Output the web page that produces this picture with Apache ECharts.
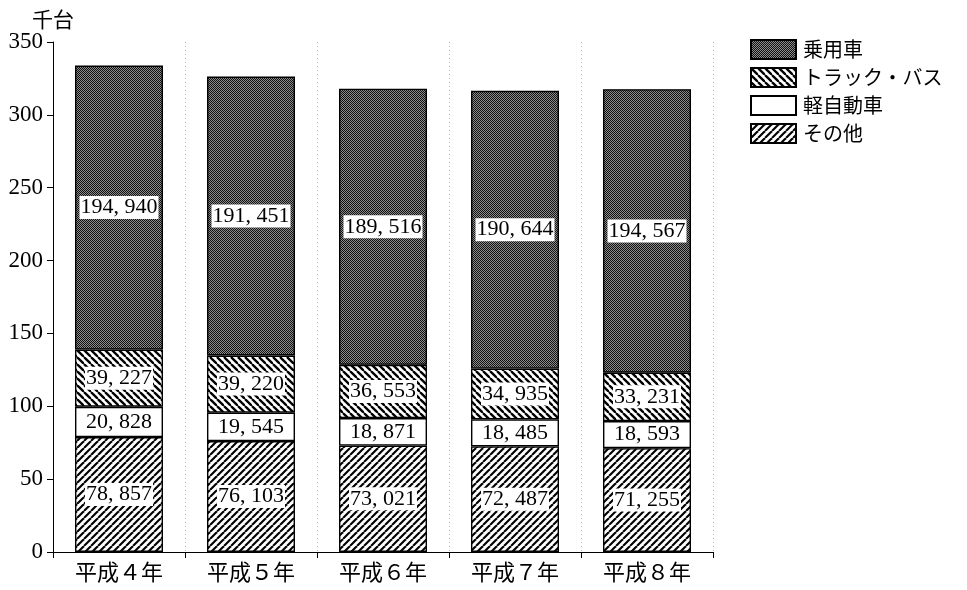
<!DOCTYPE html>
<html><head><meta charset="utf-8">
<script src="https://cdn.jsdelivr.net/npm/echarts@6/dist/echarts.min.js"></script>
<style>html,body{margin:0;padding:0;background:#fff}#c{width:967px;height:590px}</style>
</head><body><div id="c"></div>
<script>
const categories = ['平成４年','平成５年','平成６年','平成７年','平成８年'];
const sonota = [78857, 76103, 73021, 72487, 71255];
const kei = [20828, 19545, 18871, 18485, 18593];
const truckBus = [39227, 39220, 36553, 34935, 33231];
const jouyou = [194940, 191451, 189516, 190644, 194567];
const yTicks = [0, 50, 100, 150, 200, 250, 300, 350];

function mkCanvas(w, h, draw) {
  const c = document.createElement('canvas');
  c.width = w; c.height = h;
  const ctx = c.getContext('2d');
  ctx.fillStyle = '#fff'; ctx.fillRect(0, 0, w, h);
  draw(ctx);
  return c;
}
const slashPat = mkCanvas(7, 7, ctx => {
  ctx.strokeStyle = '#000'; ctx.lineWidth = 2.1;
  for (let k = -7; k <= 14; k += 7) { ctx.beginPath(); ctx.moveTo(k, 7); ctx.lineTo(k + 7, 0); ctx.stroke(); }
});
const backPat = mkCanvas(7, 7, ctx => {
  ctx.strokeStyle = '#000'; ctx.lineWidth = 2.3;
  for (let k = -7; k <= 14; k += 7) { ctx.beginPath(); ctx.moveTo(k, 0); ctx.lineTo(k + 7, 7); ctx.stroke(); }
});
const dotPat = mkCanvas(2, 2, ctx => {
  ctx.fillStyle = '#111'; ctx.fillRect(0, 0, 1, 1); ctx.fillRect(1, 1, 1, 1);
  ctx.fillStyle = '#8c8c8c'; ctx.fillRect(1, 0, 1, 1); ctx.fillRect(0, 1, 1, 1);
});

const fmt = v => String(v).replace(/\B(?=(\d{3})+(?!\d))/g, ', ');
const labelStyle = {
  show: true, position: 'inside', color: '#000',
  fontFamily: 'Liberation Serif', fontSize: 22,
  backgroundColor: '#fff', padding: [1, 1, 0, 1],
  formatter: p => fmt(p.value)
};
function ser(name, data, color) {
  return {
    name, type: 'bar', stack: 'a', data, barWidth: 88,
    itemStyle: { color, borderColor: '#000', borderWidth: 1.4 },
    label: labelStyle
  };
}

const chart = echarts.init(document.getElementById('c'));
chart.setOption({
  animation: false,
  grid: { left: 53, right: 254, top: 42, bottom: 38 },
  legend: {
    orient: 'vertical', left: 745, top: 34, icon: 'rect',
    itemWidth: 45, itemHeight: 19, itemGap: 7,
    textStyle: { fontFamily: 'Noto Sans CJK JP', fontSize: 20, color: '#000', padding: [0, 0, 0, 2] },
    data: ['乗用車', 'トラック・バス', '軽自動車', 'その他']
  },
  xAxis: {
    type: 'category', data: categories,
    axisLine: { lineStyle: { color: '#000', width: 1 } },
    axisTick: { show: true, length: 6, lineStyle: { color: '#000' } },
    axisLabel: { fontFamily: 'Noto Sans CJK JP', fontSize: 22, color: '#000', margin: 9 },
    splitLine: { show: true, lineStyle: { color: '#bbb', type: [1, 3], width: 1 } }
  },
  yAxis: {
    type: 'value', min: 0, max: 350000, interval: 50000,
    name: '千台', nameLocation: 'end', nameGap: 12,
    nameTextStyle: { fontFamily: 'Noto Sans CJK JP', fontSize: 21, color: '#000', align: 'center' },
    axisLine: { show: true, lineStyle: { color: '#000', width: 1 } },
    axisTick: { show: true, length: 6, lineStyle: { color: '#000' } },
    axisLabel: { fontFamily: 'Liberation Serif', fontSize: 23, color: '#000', margin: 10,
      formatter: v => String(yTicks[Math.round(v / 50000)]) },
    splitLine: { show: false }
  },
  series: [
    ser('その他', sonota, { image: slashPat, repeat: 'repeat' }),
    ser('軽自動車', kei, '#fff'),
    ser('トラック・バス', truckBus, { image: backPat, repeat: 'repeat' }),
    ser('乗用車', jouyou, { image: dotPat, repeat: 'repeat' })
  ]
});
</script></body></html>
